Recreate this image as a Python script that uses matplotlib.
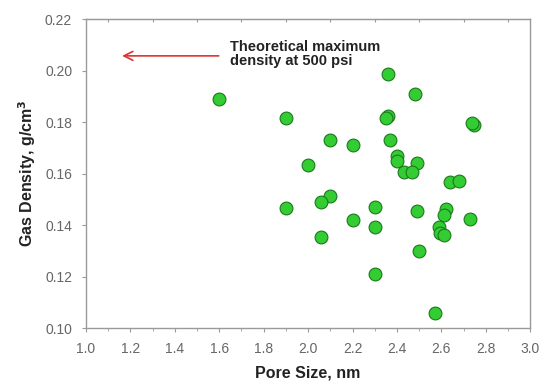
import matplotlib
matplotlib.use("Agg")
import matplotlib.pyplot as plt
import numpy as np

pore_size = [1.60, 1.90, 2.10, 2.20, 2.00, 2.36, 2.48, 2.36, 2.35, 2.745, 2.74,
             2.37, 2.40, 2.40, 2.49, 2.43, 2.47, 2.64, 2.68, 1.90, 2.10, 2.06,
             2.30, 2.49, 2.62, 2.61, 2.73, 2.20, 2.30, 2.59, 2.595, 2.61, 2.06,
             2.50, 2.30, 2.57]
gas_density = [0.1888, 0.1814, 0.173, 0.171, 0.1632, 0.1986, 0.191, 0.1823, 0.1814,
               0.1788, 0.1795, 0.173, 0.167, 0.165, 0.164, 0.1605, 0.1605, 0.1567,
               0.157, 0.1465, 0.1513, 0.149, 0.147, 0.1456, 0.1463, 0.144, 0.1423,
               0.142, 0.1393, 0.1393, 0.137, 0.136, 0.1355, 0.130, 0.1208, 0.1057]

xticks = [1.0, 1.2, 1.4, 1.6, 1.8, 2.0, 2.2, 2.4, 2.6, 2.8, 3.0]
yticks = [0.10, 0.12, 0.14, 0.16, 0.18, 0.20, 0.22]

plt.rcParams['font.family'] = ['Liberation Sans', 'DejaVu Sans']
fig = plt.figure(figsize=(5.41, 3.81), dpi=100)
ax = fig.add_axes([0.159, 0.139, 0.821, 0.811])

ax.scatter(pore_size, gas_density, s=85, color='#33cc33', edgecolors='#1a7a1a',
           linewidths=0.8, zorder=3)

ax.set_xlim(1.0, 3.0)
ax.set_ylim(0.10, 0.22)
ax.set_xticks(xticks)
ax.set_xticklabels([f"{v:.1f}" for v in xticks])
ax.set_yticks(yticks)
ax.set_yticklabels([f"{v:.2f}" for v in yticks])
ax.set_xticks(np.arange(1.1, 3.0, 0.2), minor=True)

gray = '#9a9a9a'
for sp in ax.spines.values():
    sp.set_color(gray)
    sp.set_linewidth(1.0)
ax.tick_params(axis='both', which='both', colors=gray, labelcolor='#666666',
               labelsize=10, length=3, direction='out', pad=7)
ax.tick_params(axis='x', which='minor', length=2)

secx = ax.secondary_xaxis('top')
secx.set_xticks(np.arange(1.1, 3.0, 0.2))
secx.tick_params(direction='in', length=2, colors=gray, labeltop=False)
secx.set_xticklabels([])
secx.spines['top'].set_color(gray)

ax.set_xlabel('Pore Size, nm', fontsize=11.5, fontweight='bold', color='#222222', labelpad=7)
ax.set_ylabel('Gas Density, g/cm$^{\\mathbf{3}}$', fontsize=11.5, fontweight='bold',
              color='#222222', labelpad=5)

ax.annotate('', xy=(1.15, 0.2057), xytext=(1.61, 0.2057),
            arrowprops=dict(arrowstyle='->', color='#dd3333', lw=1.2, mutation_scale=16))
ax.text(1.65, 0.2064, 'Theoretical maximum\ndensity at 500 psi', fontsize=10.5,
        fontweight='bold', color='#222222', va='center', ha='left', linespacing=0.95)

fig.savefig('out.png', dpi=100, facecolor='white')
